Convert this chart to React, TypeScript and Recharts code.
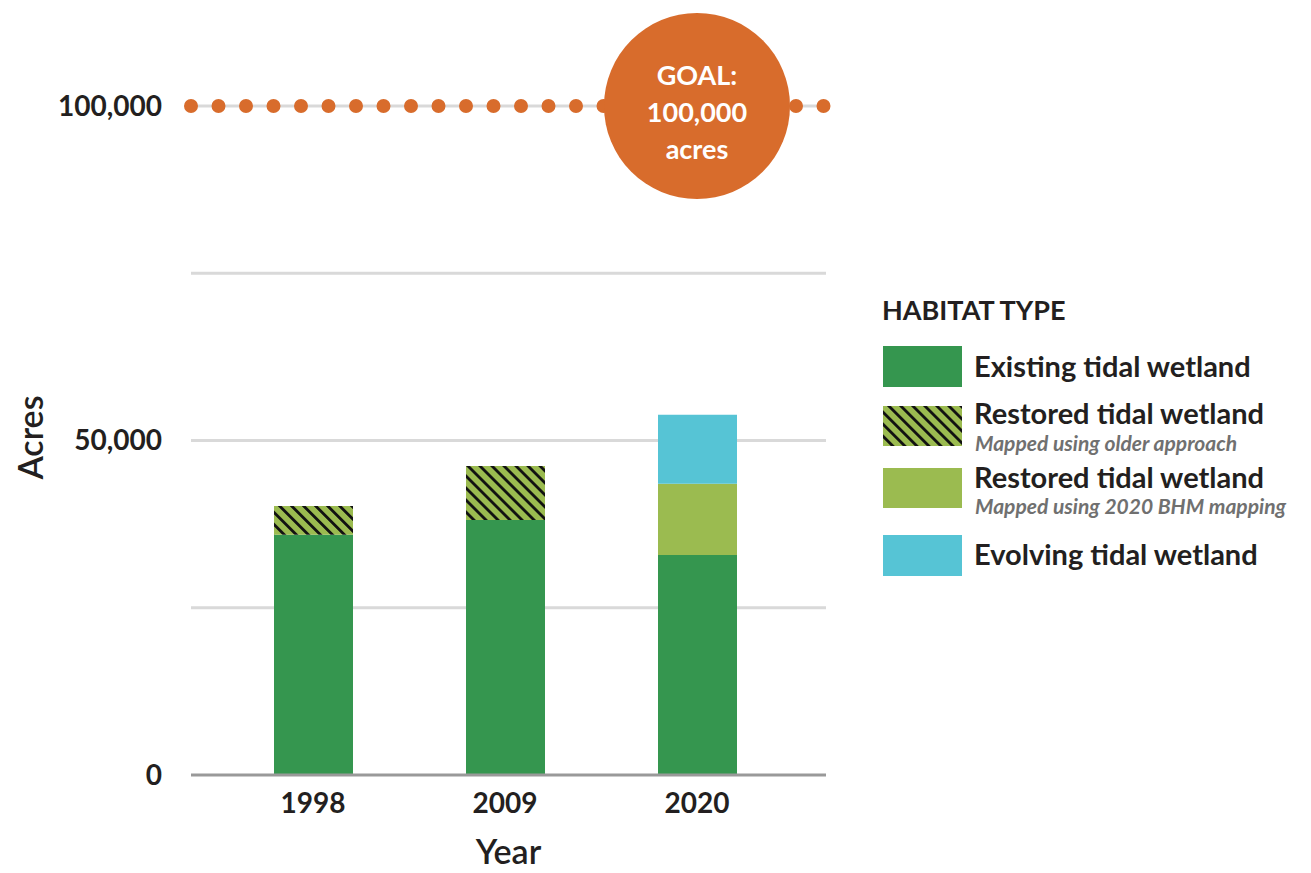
import {
  BarChart,
  Bar,
  XAxis,
  YAxis,
  CartesianGrid,
  ReferenceLine,
  ReferenceDot,
} from "recharts";

// values (acres)
const years = ["1998", "2009", "2020"];
const existingAcres = [35900, 38100, 32900];
const restoredOlderAcres = [4300, 8100, 0];
const restoredBhmAcres = [0, 0, 10650];
const evolvingAcres = [0, 0, 10300];

const yTicks = [0, 50000, 100000];
const gridValues = [25000, 50000, 75000];
const goalAcres = 100000;
const goalYear = "2020";
const goalLines = ["GOAL:", "100,000", "acres"];

const legendTitle = "HABITAT TYPE";
const legendLabels = [
  "Existing tidal wetland",
  "Restored tidal wetland",
  "Restored tidal wetland",
  "Evolving tidal wetland",
];
const legendNotes = ["", "Mapped using older approach", "Mapped using 2020 BHM mapping", ""];

const FONT = "Lato, 'Noto Sans', sans-serif";
const INK = "#231f20";
const GREEN = "#35964f";
const LIME = "#9bbb50";
const CYAN = "#56c4d5";
const ORANGE = "#d86c2c";
const GRID = "#d9d9d9";

const data = years.map((year, i) => ({
  year,
  existing: existingAcres[i],
  restoredOlder: restoredOlderAcres[i],
  restoredBhm: restoredBhmAcres[i],
  evolving: evolvingAcres[i],
}));

function HatchDef({ id }: { id: string }) {
  return (
    <defs>
      <pattern id={id} width="8.5" height="8.5" patternUnits="userSpaceOnUse" patternTransform="rotate(-45)">
        <rect width="8.5" height="8.5" fill={LIME} />
        <rect width="2.8" height="8.5" fill="#111" />
      </pattern>
    </defs>
  );
}

function GoalLabel(props: any) {
  const vb = props.viewBox || {};
  const cx = vb.x + vb.width / 2;
  const cy = vb.y + vb.height / 2;
  return (
    <g>
      {goalLines.map((line, i) => (
        <text
          key={line}
          x={cx}
          y={cy - 21 + i * 37}
          textAnchor="middle"
          fill="#fff"
          fontFamily={FONT}
          fontWeight={700}
          fontSize={27}
        >
          {line}
        </text>
      ))}
    </g>
  );
}

function AcresLabel(props: any) {
  const vb = props.viewBox || {};
  const x = vb.x - 8;
  const y = vb.y + vb.height / 2 - 3;
  return (
    <text
      x={x}
      y={y}
      transform={`rotate(-90, ${x}, ${y})`}
      textAnchor="middle"
      fill={INK}
      fontFamily={FONT}
      fontWeight={600}
      fontSize={34}
    >
      Acres
    </text>
  );
}

function YearLabel(props: any) {
  const vb = props.viewBox || {};
  return (
    <text
      x={vb.x + vb.width / 2}
      y={vb.y + 89}
      textAnchor="middle"
      fill={INK}
      fontFamily={FONT}
      fontWeight={600}
      fontSize={34}
    >
      Year
    </text>
  );
}

function HabitatLegend() {
  const swatches = [
    { y: 346, h: 41, fill: GREEN },
    { y: 406, h: 40, fill: "url(#hatchLegend)" },
    { y: 468, h: 40, fill: LIME },
    { y: 535, h: 41, fill: CYAN },
  ];
  const labelBaselines = [377, 424, 488, 565];
  const noteBaselines = [0, 451, 514, 0];
  return (
    <svg width={1311} height={873} style={{ position: "absolute", left: 0, top: 0, pointerEvents: "none" }}>
      <HatchDef id="hatchLegend" />
      <text x={882} y={320} fill={INK} fontFamily={FONT} fontWeight={700} fontSize={27}>
        {legendTitle}
      </text>
      {legendLabels.map((label, i) => (
        <g key={i}>
          <rect x={883} y={swatches[i].y} width={79} height={swatches[i].h} fill={swatches[i].fill} />
          <text x={974} y={labelBaselines[i]} fill={INK} fontFamily={FONT} fontWeight={700} fontSize={29}>
            {label}
          </text>
          {legendNotes[i] && (
            <text
              x={975}
              y={noteBaselines[i]}
              fill="#707070"
              fontFamily={FONT}
              fontWeight={700}
              fontStyle="italic"
              fontSize={21}
            >
              {legendNotes[i]}
            </text>
          )}
        </g>
      ))}
    </svg>
  );
}

export default function App() {
  const tickStyle = { fill: INK, fontFamily: FONT, fontWeight: 700, fontSize: 28 };
  return (
    <div style={{ position: "absolute", left: 0, top: 0, width: 1311, height: 873, background: "#fff" }}>
      <BarChart
        width={1311}
        height={873}
        data={data}
        margin={{ top: 106, right: 485, bottom: 0, left: 51 }}
        barSize={79}
      >
        <HatchDef id="hatchBar" />
        <CartesianGrid vertical={false} horizontalValues={gridValues} stroke={GRID} strokeWidth={3} />
        <XAxis
          dataKey="year"
          interval={0}
          tickLine={false}
          axisLine={{ stroke: "#999", strokeWidth: 3 }}
          tickSize={0}
          tickMargin={18}
          padding={{ left: 26, right: 33 }}
          height={98}
          tick={tickStyle}
          label={{ content: YearLabel }}
        />
        <YAxis
          type="number"
          domain={[0, 100000]}
          ticks={yTicks}
          width={140}
          tickLine={false}
          axisLine={false}
          tickSize={0}
          tickMargin={29}
          tickFormatter={(v: number) => v.toLocaleString("en-US")}
          tick={tickStyle}
          label={{ content: AcresLabel }}
        />
        <Bar dataKey="existing" stackId="a" fill={GREEN} isAnimationActive={false} />
        <Bar dataKey="restoredOlder" stackId="a" fill="url(#hatchBar)" isAnimationActive={false} />
        <Bar dataKey="restoredBhm" stackId="a" fill={LIME} isAnimationActive={false} />
        <Bar dataKey="evolving" stackId="a" fill={CYAN} isAnimationActive={false} />
        <ReferenceLine y={goalAcres} stroke={GRID} strokeWidth={3} />
        <ReferenceLine
          y={goalAcres}
          stroke={ORANGE}
          strokeWidth={14}
          strokeLinecap="round"
          strokeDasharray="0 27.5"
        />
        <ReferenceDot
          x={goalYear}
          y={goalAcres}
          r={93}
          fill={ORANGE}
          stroke="none"
          label={{ content: GoalLabel }}
        />
      </BarChart>
      <HabitatLegend />
    </div>
  );
}
